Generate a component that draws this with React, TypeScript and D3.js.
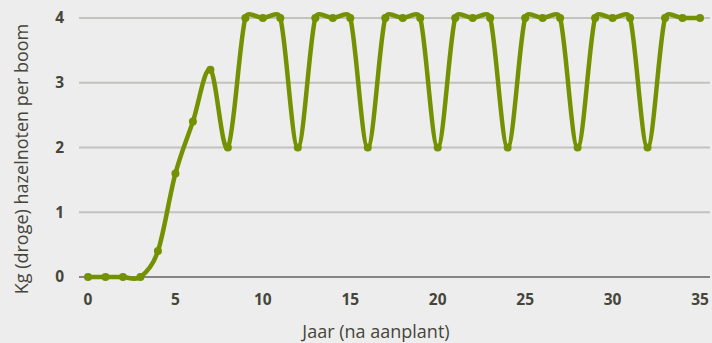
import React from "react";
import * as d3 from "d3";

const years: number[] = Array.from({ length: 36 }, (_, i) => i);
const yieldKg: number[] = [
  0, 0, 0, 0, 0.4, 1.6, 2.4, 3.2, 2,
  4, 4, 4, 2,
  4, 4, 4, 2,
  4, 4, 4, 2,
  4, 4, 4, 2,
  4, 4, 4, 2,
  4, 4, 4, 2,
  4, 4, 4,
];
const xTicks: number[] = [0, 5, 10, 15, 20, 25, 30, 35];
const yTicks: number[] = [0, 1, 2, 3, 4];
const xTitle = "Jaar (na aanplant)";
const yTitle = "Kg (droge) hazelnoten per boom";

type P = [number, number];

// Spreadsheet-style smoothed line: cubic Bezier segments whose control arms
// are capped at half of the segment length.
function smoothPath(pts: P[]): string {
  const p = d3.path();
  if (!pts.length) return "";
  p.moveTo(pts[0][0], pts[0][1]);
  const dist = (a: P, b: P) => Math.hypot(b[0] - a[0], b[1] - a[1]);
  const n = pts.length;
  for (let i = 0; i < n - 1; i++) {
    const p0 = pts[Math.max(0, i - 1)];
    const p1 = pts[i];
    const p2 = pts[i + 1];
    const p3 = pts[Math.min(n - 1, i + 2)];
    const d12 = dist(p1, p2);
    const d02 = dist(p0, p2);
    const d13 = dist(p1, p3);
    let f0 = 1 / 6;
    let f1 = 1 / 6;
    if (d02 / 6 >= d12 / 2 && d02 > 0) f0 = d12 / (2 * d02);
    if (d13 / 6 >= d12 / 2 && d13 > 0) f1 = d12 / (2 * d13);
    const c1: P = [p1[0] + (p2[0] - p0[0]) * f0, p1[1] + (p2[1] - p0[1]) * f0];
    const c2: P = [p2[0] - (p3[0] - p1[0]) * f1, p2[1] - (p3[1] - p1[1]) * f1];
    p.bezierCurveTo(c1[0], c1[1], c2[0], c2[1], p2[0], p2[1]);
  }
  return p.toString();
}

export default function App() {
  const W = 712, H = 343;
  const x = d3.scaleLinear().domain([0, 35]).range([88, 700]);
  const y = d3.scaleLinear().domain([0, 4]).range([277, 18]);
  const pts: P[] = years.map((yr, i) => [x(yr), y(yieldKg[i])]);
  const font = "'Open Sans', 'Noto Sans', sans-serif";
  const green = "#739100";
  return (
    <svg
      width={W}
      height={H}
      style={{ position: "absolute", left: 0, top: 0, display: "block" }}
    >
      <rect x={0} y={0} width={W} height={H} fill="#ededed" />
      {yTicks.map((t) => (
        <line
          key={"g" + t}
          x1={79}
          x2={710}
          y1={y(t)}
          y2={y(t)}
          stroke={t === 0 ? "#858585" : "#c2c2be"}
          strokeWidth={2}
        />
      ))}
      {yTicks.map((t) => (
        <text
          key={"yt" + t}
          x={64}
          y={y(t)}
          dy="0.35em"
          textAnchor="end"
          fontFamily={font}
          fontWeight={700}
          fontSize={15.5}
          fill="#45453a"
        >
          {t}
        </text>
      ))}
      {xTicks.map((t) => (
        <text
          key={"xt" + t}
          x={x(t)}
          y={300}
          dy="0.35em"
          textAnchor="middle"
          fontFamily={font}
          fontWeight={700}
          fontSize={15.5}
          fill="#45453a"
        >
          {t}
        </text>
      ))}
      <text
        x={376}
        y={338}
        textAnchor="middle"
        fontFamily={font}
        fontSize={18}
        fill="#45453a"
      >
        {xTitle}
      </text>
      <text
        transform={`translate(28,159) rotate(-90)`}
        textAnchor="middle"
        fontFamily={font}
        fontSize={18}
        fill="#45453a"
      >
        {yTitle}
      </text>
      <path
        d={smoothPath(pts)}
        fill="none"
        stroke={green}
        strokeWidth={4.5}
        strokeLinejoin="round"
        strokeLinecap="round"
      />
      {pts.map((d, i) => (
        <circle key={"p" + i} cx={d[0]} cy={d[1]} r={4} fill={green} />
      ))}
    </svg>
  );
}
